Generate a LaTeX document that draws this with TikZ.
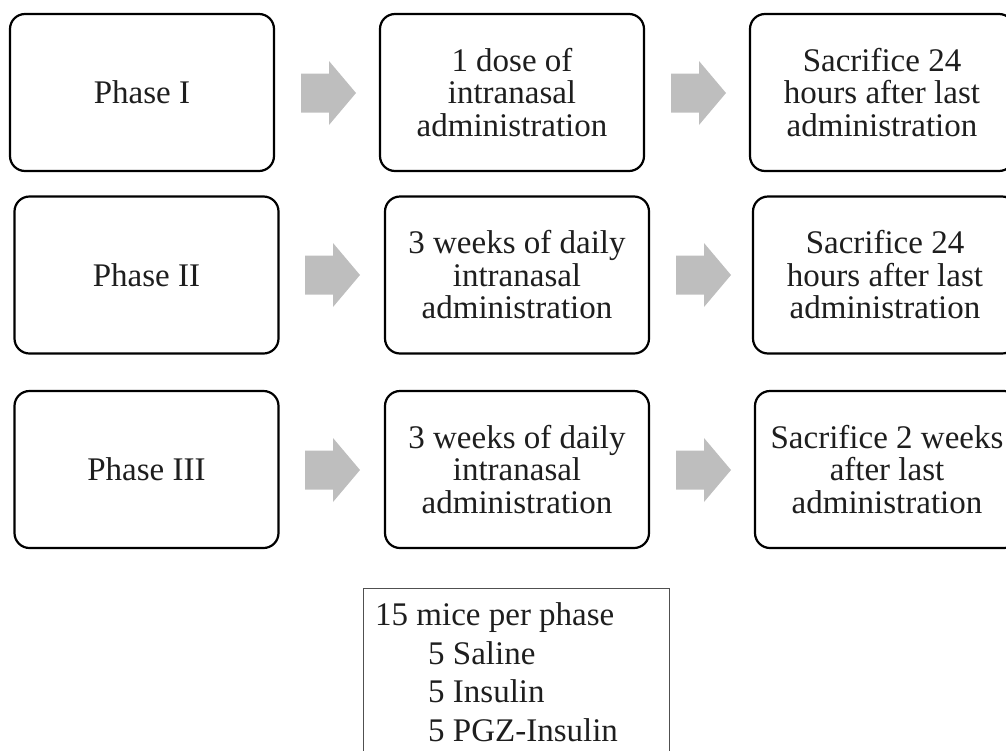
\documentclass[tikz,border=0pt]{standalone}
\usepackage{fontspec}
\setmainfont{Liberation Serif}
\definecolor{arrowgray}{RGB}{190,190,190}
\definecolor{inkgray}{RGB}{30,30,30}
\definecolor{framegray}{RGB}{80,80,80}
\begin{document}
\begin{tikzpicture}[x=1pt,y=-1pt,
  stage/.style={draw=black, line width=2.2pt, rounded corners=15pt, fill=white,
    minimum width=264pt, minimum height=157pt, inner sep=0pt, align=center,
    text=inkgray, font=\fontsize{33}{32.5}\selectfont},
  notebox/.style={draw=framegray, line width=1.6pt},
  notetext/.style={anchor=north west, inner sep=0pt, align=left,
    text=inkgray, font=\fontsize{33}{38.5}\selectfont},
  blockarrow/.pic={\fill[arrowgray] (0,-19.5) -- (28,-19.5) -- (28,-32) -- (55,0)
    -- (28,32) -- (28,19.5) -- (0,19.5) -- cycle;}
]
\useasboundingbox (0,0) rectangle (1006,750);
\clip (0,0) rectangle (1006,750);

% Phase I
\node[stage] (p1) at (142,92.5) {Phase I};
\node[stage] (d1) at (512,92.5) {1 dose of\\intranasal\\administration};
\node[stage] (s1) at (882,92.5) {Sacrifice 24\\hours after last\\administration};
\pic (a1) at (301,93) {blockarrow};
\pic (b1) at (671,93) {blockarrow};

% Phase II
\node[stage] (p2) at (146.5,275) {Phase II};
\node[stage] (d2) at (517,275) {3 weeks of daily\\intranasal\\administration};
\node[stage] (s2) at (885,275) {Sacrifice 24\\hours after last\\administration};
\pic (a2) at (305,275) {blockarrow};
\pic (b2) at (676,275) {blockarrow};

% Phase III
\node[stage] (p3) at (146.5,469.5) {Phase III};
\node[stage] (d3) at (517,469.5) {3 weeks of daily\\intranasal\\administration};
\node[stage] (s3) at (887,469.5) {Sacrifice 2 weeks\\after last\\administration};
\pic (a3) at (305,470) {blockarrow};
\pic (b3) at (676,470) {blockarrow};

% Group sizes
\draw[notebox] (363.5,588.5) rectangle (669.5,790);
\node[notetext] (mice) at (375,602.5) {15 mice per phase\\
  \hspace*{53pt}5 Saline\\
  \hspace*{53pt}5 Insulin\\
  \hspace*{53pt}5 PGZ-Insulin};
\end{tikzpicture}
\end{document}
